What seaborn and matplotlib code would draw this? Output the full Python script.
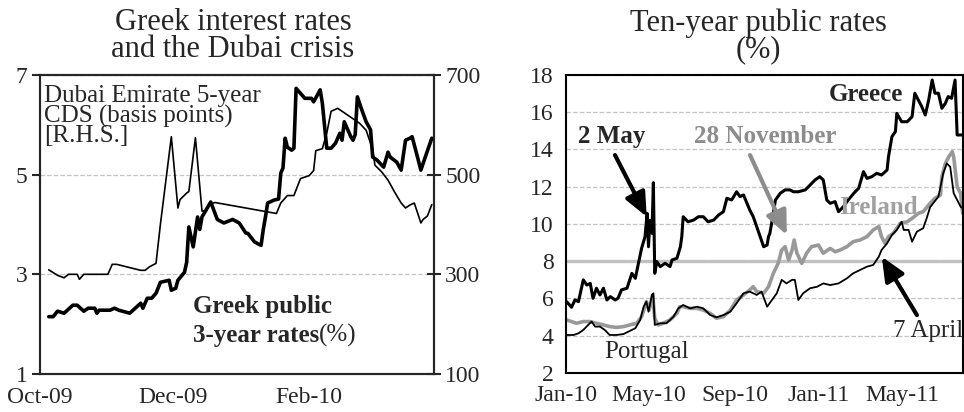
import pandas as pd
import numpy as np
import seaborn as sns
import matplotlib.pyplot as plt
import matplotlib.dates as mdates

# left panel: Greek 3-year rate (%) and Dubai 5-year CDS (bp)
gr3_dates = ['2009-10-05', '2009-10-07', '2009-10-09', '2009-10-12', '2009-10-16', '2009-10-18',
             '2009-10-21', '2009-10-23', '2009-10-26', '2009-10-27', '2009-10-28', '2009-11-02',
             '2009-11-04', '2009-11-06', '2009-11-11', '2009-11-14', '2009-11-16', '2009-11-17',
             '2009-11-19', '2009-11-21', '2009-11-23', '2009-11-25', '2009-11-29', '2009-11-30',
             '2009-12-02', '2009-12-03', '2009-12-06', '2009-12-07', '2009-12-08', '2009-12-10',
             '2009-12-12', '2009-12-13', '2009-12-14', '2009-12-16', '2009-12-18', '2009-12-21',
             '2009-12-24', '2009-12-28', '2009-12-31', '2010-01-03', '2010-01-04', '2010-01-07',
             '2010-01-10', '2010-01-11', '2010-01-12', '2010-01-13', '2010-01-16', '2010-01-18',
             '2010-01-19', '2010-01-20', '2010-01-21', '2010-01-22', '2010-01-24', '2010-01-25',
             '2010-01-26', '2010-01-28', '2010-01-30', '2010-02-02', '2010-02-03', '2010-02-06',
             '2010-02-07', '2010-02-09', '2010-02-11', '2010-02-13', '2010-02-15', '2010-02-16',
             '2010-02-17', '2010-02-20', '2010-02-21', '2010-02-22', '2010-02-23', '2010-02-25',
             '2010-02-27', '2010-03-01', '2010-03-02', '2010-03-04', '2010-03-07', '2010-03-09',
             '2010-03-10', '2010-03-13', '2010-03-15', '2010-03-17', '2010-03-19', '2010-03-20',
             '2010-03-22', '2010-03-24', '2010-03-26', '2010-03-29']
gr3_vals = [2.15, 2.15, 2.26, 2.22, 2.38, 2.38, 2.26, 2.32, 2.32, 2.22, 2.28, 2.28,
            2.32, 2.28, 2.22, 2.34, 2.42, 2.32, 2.52, 2.52, 2.62, 2.84, 2.88, 2.68,
            2.72, 2.88, 3.04, 3.24, 3.95, 3.55, 4.15, 3.9, 4.15, 4.3, 4.45, 4.1,
            4.03, 4.1, 4.03, 3.83, 3.82, 3.65, 3.58, 3.9, 4.15, 4.43, 4.49, 4.51,
            5.03, 5.13, 5.73, 5.55, 5.49, 5.53, 6.73, 6.63, 6.53, 6.53, 6.46, 6.7,
            6.43, 5.53, 5.53, 5.63, 5.83, 5.69, 6.06, 5.76, 5.69, 5.8, 6.56, 6.3,
            6.06, 5.9, 5.35, 5.29, 5.15, 5.45, 5.35, 5.25, 5.09, 5.69, 5.73, 5.76,
            5.43, 5.09, 5.35, 5.73]

cds_dates = ['2009-10-05', '2009-10-09', '2009-10-12', '2009-10-14', '2009-10-18', '2009-10-19',
             '2009-10-21', '2009-11-01', '2009-11-03', '2009-11-05', '2009-11-16', '2009-11-18',
             '2009-11-20', '2009-11-23', '2009-11-25', '2009-11-30', '2009-12-03', '2009-12-04',
             '2009-12-07', '2009-12-08', '2009-12-11', '2009-12-14', '2009-12-16', '2009-12-17',
             '2009-12-20', '2010-01-17', '2010-01-19', '2010-01-22', '2010-01-25', '2010-01-28',
             '2010-02-01', '2010-02-03', '2010-02-04', '2010-02-07', '2010-02-09', '2010-02-11',
             '2010-02-14', '2010-02-24', '2010-02-27', '2010-03-02', '2010-03-03', '2010-03-06',
             '2010-03-09', '2010-03-12', '2010-03-15', '2010-03-17', '2010-03-19', '2010-03-21',
             '2010-03-24', '2010-03-25', '2010-03-27', '2010-03-29']
cds_vals = [309, 298, 293, 300, 300, 290, 300, 300, 320, 320, 308, 308,
            315, 322, 400, 576, 433, 450, 463, 466, 574, 427, 427, 440,
            444, 422, 443, 458, 458, 492, 498, 508, 548, 552, 583, 627,
            633, 603, 589, 550, 519, 506, 489, 465, 443, 433, 439, 443,
            403, 410, 417, 440]

# right panel: ten-year rates (%), x in days since 1 Jan 2010
gr_day = [1, 8, 13, 18, 25, 30, 35, 39, 44, 49, 54, 59, 64, 71, 75, 80, 88, 92, 95, 100,
          104, 109, 114, 117, 119, 121, 124, 126, 128, 131, 136, 143, 150, 153, 160, 165, 167, 169, 176, 184,
          191, 198, 205, 213, 220, 227, 232, 239, 246, 251, 256, 261, 265, 270, 275, 280, 285, 290, 292, 294,
          299, 302, 309, 316, 323, 328, 335, 345, 352, 359, 366, 371, 376, 381, 388, 393, 400, 407, 415, 422,
          429, 434, 441, 448, 455, 463, 465, 470, 475, 477, 484, 492, 499, 503, 508, 513, 518, 523, 528, 532,
          537, 542, 547, 551, 556, 561, 564, 571]
gr_val = [5.83, 5.53, 5.92, 5.83, 7.0, 6.72, 6.81, 6.01, 6.55, 6.19, 6.55, 5.92, 6.1, 5.92, 6.01, 6.46, 6.55, 7.0, 7.35, 7.08,
          7.8, 8.69, 9.32, 10.57, 8.78, 10.2, 9.5, 12.22, 7.35, 7.98, 7.71, 7.89, 7.71, 8.07, 8.16, 8.78, 9.32, 10.39, 10.12, 10.21,
          10.39, 10.39, 10.12, 10.21, 10.48, 10.66, 11.38, 11.29, 11.73, 11.47, 11.56, 11.11, 10.75, 10.39, 9.86, 9.32, 8.78, 8.87, 9.32, 9.5,
          10.57, 11.29, 11.65, 11.83, 11.83, 11.73, 11.73, 11.83, 12.09, 12.36, 12.54, 12.36, 11.29, 11.11, 11.2, 10.66, 10.93, 11.29, 11.65, 11.92,
          12.81, 12.45, 12.54, 12.72, 12.63, 12.9, 13.61, 14.69, 14.96, 15.94, 15.49, 15.49, 15.76, 17.02, 16.66, 16.3, 15.85, 16.66, 17.73, 17.02,
          17.02, 16.21, 16.48, 16.84, 16.75, 17.73, 14.78, 14.78]

ir_day = [1, 8, 15, 25, 35, 44, 54, 63, 73, 83, 92, 102, 109, 114, 116, 120, 125, 128, 133, 140,
          150, 160, 164, 169, 179, 189, 198, 208, 217, 227, 237, 246, 256, 265, 270, 275, 285, 292, 299, 306,
          311, 316, 321, 326, 329, 333, 340, 347, 354, 364, 371, 381, 388, 395, 405, 414, 424, 434, 443, 451,
          455, 460, 465, 472, 482, 492, 499, 508, 515, 525, 532, 540, 542, 547, 552, 557, 559, 564, 569, 572]
ir_val = [4.85, 4.76, 4.67, 4.76, 4.76, 4.67, 4.58, 4.49, 4.45, 4.49, 4.58, 4.67, 5.02, 5.56, 5.83, 5.38, 6.19, 4.94, 4.58, 4.67,
          4.85, 5.2, 5.56, 5.56, 5.47, 5.47, 5.38, 5.2, 4.94, 5.02, 5.38, 5.92, 6.19, 6.46, 6.63, 6.37, 6.28, 6.63, 7.35, 7.89,
          8.6, 8.78, 8.07, 8.6, 9.14, 8.43, 7.89, 8.43, 8.78, 8.87, 8.43, 8.69, 8.51, 8.6, 8.78, 9.05, 9.14, 9.32, 9.68, 9.86,
          9.32, 8.96, 9.32, 9.5, 10.04, 10.12, 10.3, 10.57, 10.66, 11.11, 11.38, 11.56, 12.54, 13.25, 13.61, 13.88, 13.61, 12.0, 11.65, 10.57]

pt_day = [1, 11, 18, 25, 32, 37, 42, 49, 56, 63, 73, 83, 90, 100, 107, 112, 116, 119, 124, 126,
          128, 136, 145, 155, 162, 169, 179, 189, 198, 208, 217, 227, 237, 246, 256, 265, 275, 282, 290, 297,
          304, 311, 318, 326, 330, 335, 342, 352, 362, 371, 381, 393, 405, 414, 424, 434, 443, 451, 455, 463,
          470, 477, 484, 487, 494, 499, 506, 515, 520, 525, 537, 544, 549, 554, 559, 564, 569, 572]
pt_val = [4.04, 4.04, 4.13, 4.31, 4.58, 4.76, 4.49, 4.49, 4.31, 4.04, 4.04, 4.09, 4.22, 4.4, 4.85, 5.56, 5.83, 5.29, 6.19, 6.28,
          4.58, 4.67, 4.67, 5.02, 5.47, 5.65, 5.47, 5.56, 5.47, 5.11, 4.99, 5.11, 5.29, 5.74, 6.28, 6.37, 6.19, 6.37, 5.56, 5.92,
          6.28, 7.0, 6.81, 7.0, 7.0, 5.92, 6.28, 6.55, 6.63, 6.81, 6.72, 6.81, 7.08, 7.35, 7.53, 7.71, 7.8, 8.24, 8.6, 8.96,
          9.41, 9.68, 10.12, 9.68, 9.68, 9.05, 9.59, 9.77, 10.3, 10.9, 11.47, 12.72, 13.25, 13.07, 11.65, 11.29, 10.93, 10.84]

base = pd.Timestamp('2010-01-01')
def to_date(days):
    return base + pd.to_timedelta(np.array(days, dtype=float), unit='D')

sns.set_style('white')
plt.rcParams['font.family'] = ['Liberation Serif', 'DejaVu Serif']
plt.rcParams['axes.linewidth'] = 1.5

IRL = '#999999'
GRID = '#c4c4c4'
FS = 18

fig = plt.figure(figsize=(9.64, 4.12), dpi=100)
ax1 = fig.add_axes([0.0415, 0.0922, 0.4087, 0.726])
ax2 = fig.add_axes([0.5871, 0.0947, 0.4119, 0.7233])

# ---- left panel
sns.lineplot(x=pd.to_datetime(gr3_dates), y=gr3_vals, ax=ax1, color='k', lw=2.6,
             estimator=None, sort=False)
ax1.set_ylim(1, 7)
ax1.set_yticks([1, 3, 5, 7])
ax1.set_xlim(pd.Timestamp('2009-10-01'), pd.Timestamp('2010-03-30'))
ax1.xaxis.set_major_locator(mdates.MonthLocator(bymonth=[10, 12, 2]))
ax1.xaxis.set_major_formatter(mdates.DateFormatter('%b-%y'))
ax1.yaxis.grid(True, ls='--', color=GRID, lw=0.9)
ax1.set_axisbelow(True)

tw = ax1.twinx()
sns.lineplot(x=pd.to_datetime(cds_dates), y=cds_vals, ax=tw, color='k', lw=1.2,
             estimator=None, sort=False)
tw.set_ylim(100, 700)
tw.set_yticks([100, 300, 500, 700])
tw.set_ylabel('')
tw.tick_params(axis='y', labelsize=17, direction='inout', length=10, width=1.5, pad=3)
for s in tw.spines.values():
    s.set_linewidth(1.5)

ax1.text(0.01, 0.965, 'Dubai Emirate 5-year\nCDS (basis points)\n[R.H.S.]', transform=ax1.transAxes,
         ha='left', va='top', fontsize=FS, linespacing=0.85)
ax1.text(0.388, 0.225, 'Greek public', transform=ax1.transAxes, ha='left', va='center',
         fontsize=FS, fontweight='bold')
t = ax1.text(0.388, 0.128, '3-year rates', transform=ax1.transAxes, ha='left', va='center',
             fontsize=FS, fontweight='bold')
ax1.annotate('(%)', xy=(1, 0.5), xycoords=t, ha='left', va='center', fontsize=FS)

# ---- right panel
sns.lineplot(x=to_date(ir_day), y=ir_val, ax=ax2, color=IRL, lw=2.6, estimator=None, sort=False)
sns.lineplot(x=to_date(pt_day), y=pt_val, ax=ax2, color='k', lw=1.3, estimator=None, sort=False)
sns.lineplot(x=to_date(gr_day), y=gr_val, ax=ax2, color='k', lw=2.2, estimator=None, sort=False)
ax2.axhline(8, color='#c0c0c0', lw=2.4, zorder=0.5)
ax2.set_ylim(2, 18)
ax2.set_yticks(range(2, 19, 2))
ax2.set_xlim(base, base + pd.Timedelta(days=572.5))
ax2.xaxis.set_major_locator(mdates.MonthLocator(bymonth=[1, 5, 9]))
ax2.xaxis.set_major_formatter(mdates.DateFormatter('%b-%y'))
ax2.yaxis.grid(True, ls='--', color=GRID, lw=0.9)
ax2.set_axisbelow(True)

ax2.text(0.756, 0.933, 'Greece', transform=ax2.transAxes, ha='center', va='center',
         fontsize=FS, fontweight='bold')
ax2.text(0.116, 0.792, '2 May', transform=ax2.transAxes, ha='center', va='center',
         fontsize=FS, fontweight='bold')
ax2.text(0.501, 0.792, '28 November', transform=ax2.transAxes, ha='center', va='center',
         fontsize=FS, fontweight='bold', color='#8c8c8c')
ax2.text(0.786, 0.554, 'Ireland', transform=ax2.transAxes, ha='center', va='center',
         fontsize=FS, fontweight='bold', color='#a0a0a0')
ax2.text(0.204, 0.070, 'Portugal', transform=ax2.transAxes, ha='center', va='center', fontsize=FS)
ax2.text(1.0, 0.141, '7 April', transform=ax2.transAxes, ha='right', va='center', fontsize=FS)

def arrow(ax, tail, head, color):
    ax.annotate('', xy=(mdates.date2num(to_date([head[0]])[0]), head[1]),
                xytext=(mdates.date2num(to_date([tail[0]])[0]), tail[1]),
                arrowprops=dict(arrowstyle='-|>,head_length=0.9,head_width=0.4', color=color,
                                lw=3, shrinkA=0, shrinkB=0, mutation_scale=16))

arrow(ax2, (70.7, 13.7), (116.4, 10.39), 'k')
arrow(ax2, (265.4, 13.7), (318.4, 9.41), '#8c8c8c')
arrow(ax2, (506, 5.11), (455.4, 8.24), 'k')

for ax in (ax1, ax2):
    ax.set_xlabel('')
    ax.set_ylabel('')
    ax.tick_params(axis='both', labelsize=17, direction='out', length=6, width=1.5, pad=3)
    for s in ax.spines.values():
        s.set_color('k')
        s.set_linewidth(1.5)

fig.text(233 / 964, 0.912, 'Greek interest rates\nand the Dubai crisis', ha='center', va='center',
         fontsize=22, linespacing=0.9)
fig.text(758 / 964, 0.912, 'Ten-year public rates\n(%)', ha='center', va='center',
         fontsize=22, linespacing=0.9)

fig.savefig('out.png', dpi=100)
